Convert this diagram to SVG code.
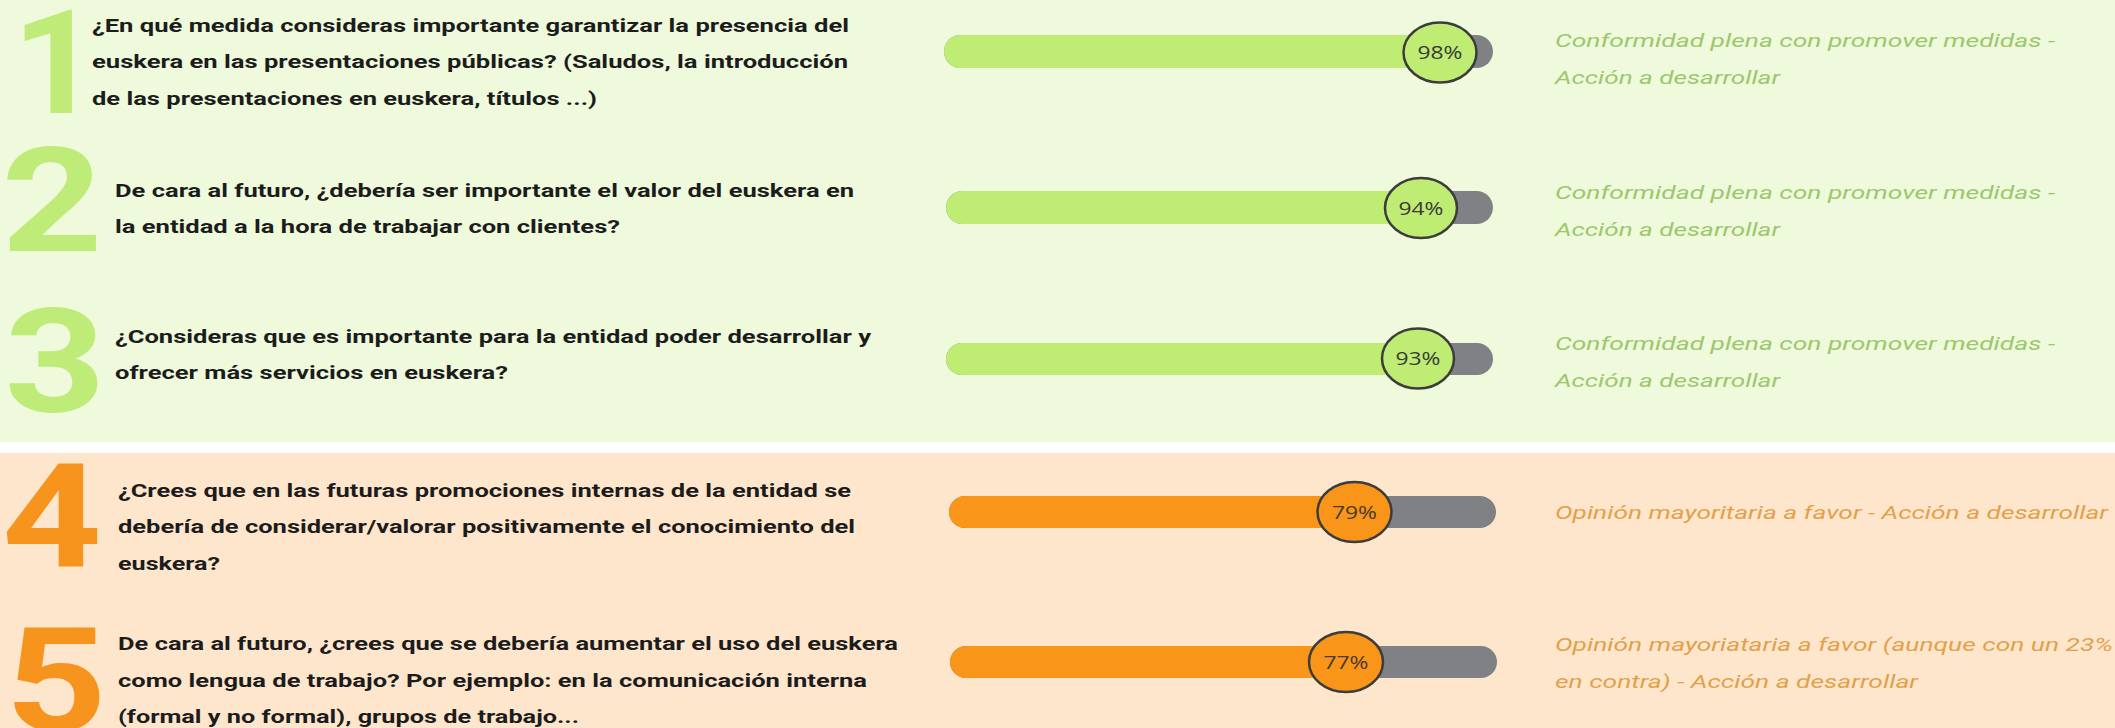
<svg xmlns="http://www.w3.org/2000/svg" width="2115" height="728" viewBox="0 0 2115 728">
<style>
.q{font-family:Roboto,"Liberation Sans",sans-serif;font-weight:700;font-size:19px;fill:#1c1c1c}
.rg{font-family:Roboto,"Liberation Sans",sans-serif;font-style:italic;font-size:19px;fill:#9cc76c}
.ro{font-family:Roboto,"Liberation Sans",sans-serif;font-style:italic;font-size:19px;fill:#e3a04a}
.big{font-family:Roboto,"Liberation Sans",sans-serif;font-weight:700;font-size:145px;text-anchor:middle}
.pc{font-family:"Open Sans",Roboto,sans-serif;font-size:18px;fill:#3a3a3a;text-anchor:middle}
.track{fill:#808185}
.gf{fill:#bfec73}
.of{fill:#f99518}
.knob{stroke:#3c3c3c;stroke-width:2.5}
</style>
<rect x="0" y="0" width="2115" height="442" fill="#eefadb"/>
<rect x="0" y="442" width="2115" height="11" fill="#ffffff"/>
<rect x="0" y="453" width="2115" height="275" fill="#fee6cc"/>

<g id="item1">
<text class="big" transform="translate(56,113) scale(1.05,1)" fill="#bfec78">1</text>
<text class="q" x="92" y="32" textLength="757" lengthAdjust="spacingAndGlyphs">¿En qué medida consideras importante garantizar la presencia del</text>
<text class="q" x="92" y="68" textLength="756" lengthAdjust="spacingAndGlyphs">euskera en las presentaciones públicas? (Saludos, la introducción</text>
<text class="q" x="92" y="105" textLength="505" lengthAdjust="spacingAndGlyphs">de las presentaciones en euskera, títulos ...)</text>
<rect class="track" x="944" y="35" width="549" height="33" rx="16.5"/>
<rect class="gf" x="944" y="35" width="496" height="33" rx="16.5"/>
<rect class="gf" x="1420" y="35" width="20" height="33"/>
<ellipse class="gf knob" cx="1440" cy="52.5" rx="36.5" ry="30"/>
<text class="pc" x="1440" y="59" textLength="45" lengthAdjust="spacingAndGlyphs">98%</text>
<text class="rg" x="1555" y="47" textLength="500" lengthAdjust="spacingAndGlyphs">Conformidad plena con promover medidas -</text>
<text class="rg" x="1555" y="84" textLength="225" lengthAdjust="spacingAndGlyphs">Acción a desarrollar</text>
</g>

<g id="item2">
<text class="big" transform="translate(52,251) scale(1.22,1)" fill="#bfec78">2</text>
<text class="q" x="115" y="197" textLength="739" lengthAdjust="spacingAndGlyphs">De cara al futuro, ¿debería ser importante el valor del euskera en</text>
<text class="q" x="115" y="233" textLength="505" lengthAdjust="spacingAndGlyphs">la entidad a la hora de trabajar con clientes?</text>
<rect class="track" x="946" y="191" width="547" height="33" rx="16.5"/>
<rect class="gf" x="946" y="191" width="475" height="33" rx="16.5"/>
<rect class="gf" x="1400" y="191" width="21" height="33"/>
<ellipse class="gf knob" cx="1421" cy="208" rx="36" ry="30"/>
<text class="pc" x="1421" y="214.5" textLength="45" lengthAdjust="spacingAndGlyphs">94%</text>
<text class="rg" x="1555" y="199" textLength="500" lengthAdjust="spacingAndGlyphs">Conformidad plena con promover medidas -</text>
<text class="rg" x="1555" y="236" textLength="225" lengthAdjust="spacingAndGlyphs">Acción a desarrollar</text>
</g>

<g id="item3">
<text class="big" transform="translate(55,412) scale(1.22,1)" fill="#bfec78">3</text>
<text class="q" x="115" y="343" textLength="756" lengthAdjust="spacingAndGlyphs">¿Consideras que es importante para la entidad poder desarrollar y</text>
<text class="q" x="115" y="379" textLength="393" lengthAdjust="spacingAndGlyphs">ofrecer más servicios en euskera?</text>
<rect class="track" x="946" y="343" width="547" height="32" rx="16"/>
<rect class="gf" x="946" y="343" width="472" height="32" rx="16"/>
<rect class="gf" x="1400" y="343" width="18" height="32"/>
<ellipse class="gf knob" cx="1418" cy="358.5" rx="36" ry="30"/>
<text class="pc" x="1418" y="365" textLength="45" lengthAdjust="spacingAndGlyphs">93%</text>
<text class="rg" x="1555" y="350" textLength="500" lengthAdjust="spacingAndGlyphs">Conformidad plena con promover medidas -</text>
<text class="rg" x="1555" y="387" textLength="225" lengthAdjust="spacingAndGlyphs">Acción a desarrollar</text>
</g>

<g id="item4">
<text class="big" transform="translate(52,567) scale(1.2,1)" fill="#f7941d">4</text>
<text class="q" x="118" y="497" textLength="733" lengthAdjust="spacingAndGlyphs">¿Crees que en las futuras promociones internas de la entidad se</text>
<text class="q" x="118" y="533" textLength="737" lengthAdjust="spacingAndGlyphs">debería de considerar/valorar positivamente el conocimiento del</text>
<text class="q" x="118" y="570" textLength="102" lengthAdjust="spacingAndGlyphs">euskera?</text>
<rect class="track" x="949" y="496" width="547" height="32" rx="16"/>
<rect class="of" x="949" y="496" width="406" height="32" rx="16"/>
<rect class="of" x="1335" y="496" width="20" height="32"/>
<ellipse class="of knob" cx="1354.5" cy="512" rx="37" ry="30"/>
<text class="pc" x="1354.5" y="518.5" textLength="45" lengthAdjust="spacingAndGlyphs" style="fill:#4a3a28">79%</text>
<text class="ro" x="1555" y="519" textLength="553" lengthAdjust="spacingAndGlyphs">Opinión mayoritaria a favor - Acción a desarrollar</text>
</g>

<g id="item5">
<text class="big" transform="translate(56,731) scale(1.22,1)" fill="#f7941d">5</text>
<text class="q" x="118" y="650" textLength="780" lengthAdjust="spacingAndGlyphs">De cara al futuro, ¿crees que se debería aumentar el uso del euskera</text>
<text class="q" x="118" y="687" textLength="749" lengthAdjust="spacingAndGlyphs">como lengua de trabajo? Por ejemplo: en la comunicación interna</text>
<text class="q" x="118" y="723" textLength="461" lengthAdjust="spacingAndGlyphs">(formal y no formal), grupos de trabajo...</text>
<rect class="track" x="950" y="646" width="547" height="32" rx="16"/>
<rect class="of" x="950" y="646" width="396" height="32" rx="16"/>
<rect class="of" x="1326" y="646" width="20" height="32"/>
<ellipse class="of knob" cx="1346" cy="662" rx="37" ry="30"/>
<text class="pc" x="1346" y="668.5" textLength="45" lengthAdjust="spacingAndGlyphs" style="fill:#4a3a28">77%</text>
<text class="ro" x="1555" y="651" textLength="558" lengthAdjust="spacingAndGlyphs">Opinión mayoriataria a favor (aunque con un 23%</text>
<text class="ro" x="1555" y="688" textLength="363" lengthAdjust="spacingAndGlyphs">en contra) - Acción a desarrollar</text>
</g>
</svg>
